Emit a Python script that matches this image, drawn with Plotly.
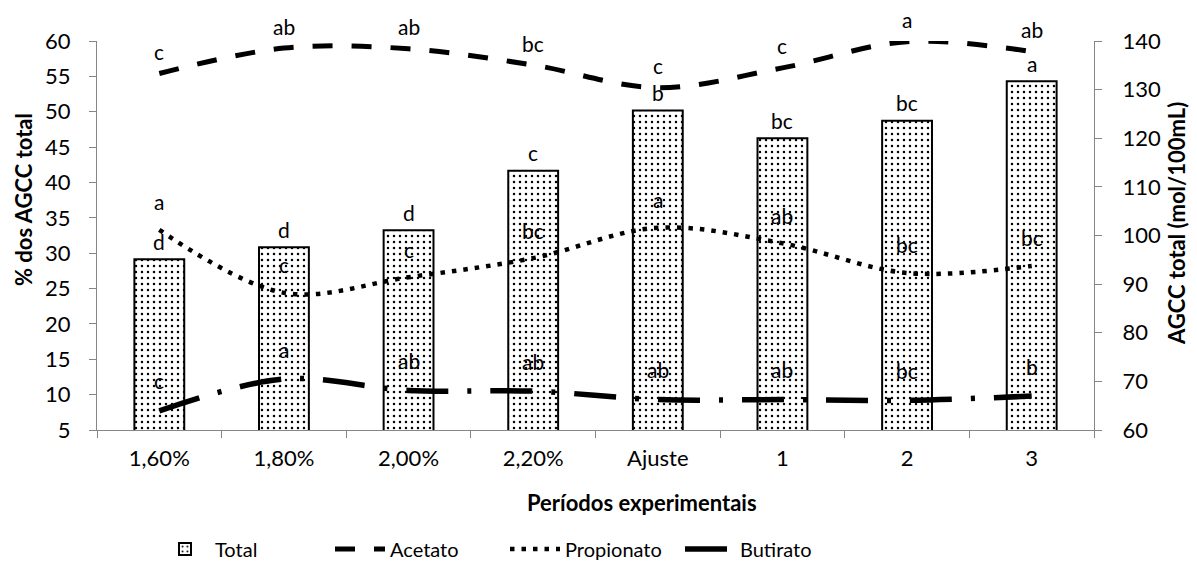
import plotly.graph_objects as go

categories = ["1,60%", "1,80%", "2,00%", "2,20%", "Ajuste", "1", "2", "3"]
total = [95.1, 97.6, 101.1, 113.3, 125.7, 120.0, 123.6, 131.7]
acetato = [55.4, 59.0, 58.9, 56.6, 53.4, 56.2, 59.9, 58.5]
propionato = [33.3, 24.4, 26.6, 29.3, 33.6, 31.4, 27.2, 28.2]
butirato = [7.7, 12.2, 10.6, 10.5, 9.3, 9.3, 9.2, 9.8]

total_letters = ["d", "d", "d", "c", "b", "bc", "bc", "a"]
acetato_letters = ["c", "ab", "ab", "bc", "c", "c", "a", "ab"]
propionato_letters = ["a", "c", "c", "bc", "a", "ab", "bc", "bc"]
butirato_letters = ["c", "a", "ab", "ab", "ab", "ab", "bc", "b"]

FONT = "Lato"
AXIS_GREY = "#868686"

# page body has an 8px margin, so the figure is made 8px smaller
OFF = 8
W, H = 1197 - OFF, 587 - OFF
L, T = 97 - OFF, 41 - OFF
PW, PH = 997, 389
R, B = W - L - PW, H - T - PH

fig = go.Figure()
fig.add_trace(go.Bar(
    x=categories, y=total, name="Total", yaxis="y",
    width=0.4,
    marker=dict(color="white", line=dict(color="black", width=2),
                pattern=dict(shape=".", fgcolor="black", bgcolor="white",
                             size=6, solidity=0.13, fillmode="replace")),
))
fig.add_trace(go.Scatter(
    x=categories, y=acetato, name="Acetato", yaxis="y2", mode="lines",
    line=dict(color="black", width=5, dash="20px,19px", shape="spline"),
))
fig.add_trace(go.Scatter(
    x=categories, y=propionato, name="Propionato", yaxis="y2", mode="lines",
    line=dict(color="black", width=4.5, dash="4.5px,7px", shape="spline"),
))
fig.add_trace(go.Scatter(
    x=categories, y=butirato, name="Butirato", yaxis="y2", mode="lines",
    line=dict(color="black", width=5.5, dash="42px,19px,4px,19px", shape="spline"),
))

annotations = []
def add_letters(values, letters, yref, shift):
    for i, (v, t) in enumerate(zip(values, letters)):
        annotations.append(dict(x=i, y=v, xref="x", yref=yref, text=t,
                                showarrow=False, yshift=shift,
                                xanchor="center", yanchor="middle",
                                font=dict(family=FONT, size=21, color="black")))

add_letters(total, total_letters, "y", 18)
add_letters(acetato, acetato_letters, "y2", 22)
add_letters(propionato, propionato_letters, "y2", 28)
add_letters(butirato, butirato_letters, "y2", 30)

def px_to_paper(px, py):
    return (px - OFF - L) / PW, (H - B - (py - OFF)) / PH

title_font = dict(family=FONT, size=22, color="black", weight="bold")
for text, px, py, ang in [("% dos AGCC total", 23, 200, -90),
                          ("AGCC total (mol/100mL)", 1176, 224, -90),
                          ("Períodos experimentais", 642, 502, 0)]:
    xp, yp = px_to_paper(px, py)
    annotations.append(dict(text=text, textangle=ang, x=xp, y=yp, xref="paper",
                            yref="paper", xanchor="center", yanchor="middle",
                            showarrow=False, font=title_font))

tick_font = dict(family=FONT, size=22, color="black")
lx, ly = px_to_paper(505, 549)
fig.update_layout(
    width=W, height=H,
    margin=dict(l=L, r=R, t=T, b=B),
    paper_bgcolor="white", plot_bgcolor="white",
    showlegend=True,
    legend=dict(orientation="h", x=lx, xanchor="center", y=ly,
                yanchor="middle", font=dict(family=FONT, size=20, color="black"),
                itemwidth=50, entrywidth=110, traceorder="normal"),
    xaxis=dict(type="category", range=[-0.5, 7.5], showline=True, linecolor=AXIS_GREY,
               linewidth=1, ticks="outside", tickson="boundaries", ticklen=7,
               tickcolor=AXIS_GREY, showgrid=False, tickfont=tick_font, zeroline=False,
               ticklabelstandoff=9),
    yaxis=dict(side="right", range=[60, 140], dtick=10, showline=True, linecolor=AXIS_GREY,
               linewidth=1, ticks="outside", ticklen=7, tickcolor=AXIS_GREY,
               showgrid=False, zeroline=False, tickfont=tick_font, ticklabelstandoff=16),
    yaxis2=dict(side="left", overlaying="y", range=[5, 60], dtick=5, showline=True,
                linecolor=AXIS_GREY, linewidth=1, ticks="outside", ticklen=7,
                tickcolor=AXIS_GREY, showgrid=False, zeroline=False, tickfont=tick_font,
                ticklabelstandoff=14),
    annotations=annotations,
)

fig.write_html("out.html")
